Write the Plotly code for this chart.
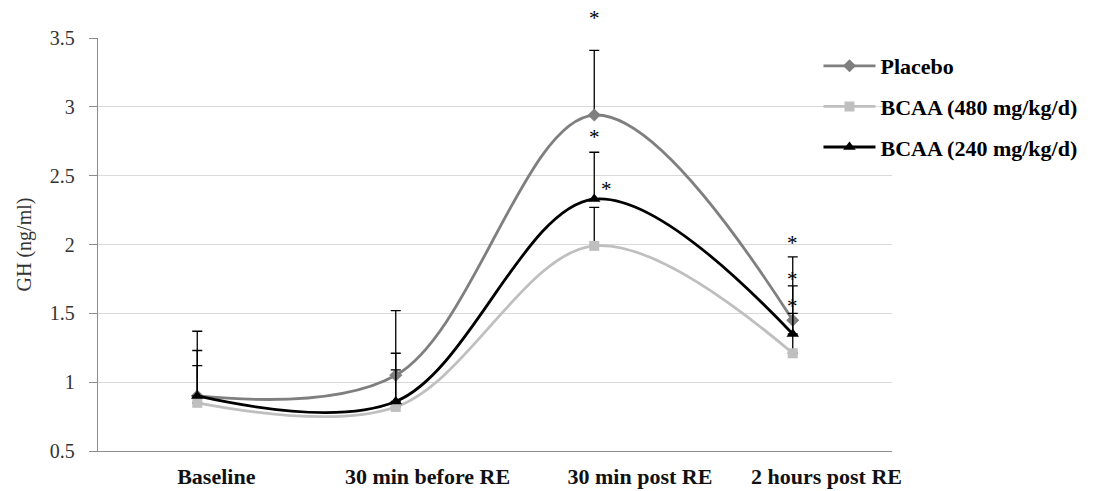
import plotly.graph_objects as go

categories = ["Baseline", "30 min before RE", "30 min post RE", "2 hours post RE"]
x_pos = [0, 1, 2, 3]
label_pos = [0.096, 1.16, 2.23, 3.17]

placebo = [0.90, 1.05, 2.94, 1.45]
placebo_top = [1.37, 1.52, 3.41, 1.91]
bcaa480 = [0.85, 0.82, 1.99, 1.21]
bcaa480_top = [1.12, 1.09, 2.27, 1.50]
bcaa240 = [0.90, 0.86, 2.33, 1.35]
bcaa240_top = [1.23, 1.21, 2.67, 1.70]

# significance markers (x, y)
star_x = [2, 2, 2.06, 3, 3, 3]
star_y = [3.65, 2.79, 2.41, 2.02, 1.76, 1.56]

y_ticks = [0.5, 1, 1.5, 2, 2.5, 3, 3.5]
y_labels = ["0.5", "1", "1.5", "2", "2.5", "3", "3.5"]

FONT = "Liberation Serif"
Y_MIN, Y_MAX = 0.5, 3.5
PLOT_H = 413

def err(vals, tops):
    return dict(type="data", symmetric=False,
                array=[t - v for v, t in zip(vals, tops)],
                arrayminus=[0] * len(vals),
                color="black", thickness=1.3, width=5)

fig = go.Figure()
series = [
    ("Placebo", placebo, placebo_top, "#7f7f7f", "diamond", 10),
    ("BCAA (480 mg/kg/d)", bcaa480, bcaa480_top, "#bfbfbf", "square", 10),
    ("BCAA (240 mg/kg/d)", bcaa240, bcaa240_top, "#000000", "triangle-up", 11),
]
for i, (name, vals, tops, col, sym, sz) in enumerate(series):
    fig.add_trace(go.Scatter(
        x=x_pos, y=vals, name=name, mode="lines+markers",
        line=dict(color=col, width=2.8, shape="spline", smoothing=1.0),
        marker=dict(color=col, symbol=sym, size=sz),
        error_y=err(vals, tops),
        legendgroup=f"g{i}",
    ))

px_per_unit = PLOT_H / (Y_MAX - Y_MIN)
for sx, sy in zip(star_x, star_y):
    ya = min(sy, Y_MAX)
    fig.add_annotation(x=sx, y=ya, text="*", showarrow=False,
                       font=dict(family=FONT, size=21, color="black"),
                       xanchor="center", yanchor="middle", height=16,
                       valign="middle", borderpad=0,
                       yshift=(sy - ya) * px_per_unit - 1)

fig.update_layout(
    width=1110, height=491,
    margin=dict(l=90, r=226, t=30, b=48, autoexpand=False),
    paper_bgcolor="white", plot_bgcolor="white",
    font=dict(family=FONT, color="#333333"),
    showlegend=True,
    legend=dict(x=0.9074, y=0.983, xanchor="left", yanchor="top",
                font=dict(family=FONT, size=22, color="black", weight="bold"),
                tracegroupgap=9, itemwidth=52, bgcolor="rgba(0,0,0,0)"),
    xaxis=dict(range=[-0.5, 3.5], tickvals=label_pos, ticktext=categories,
               tickfont=dict(family=FONT, size=22, color="#111111", weight="bold"),
               showgrid=False, showline=True, linecolor="#8c8c8c", linewidth=1.3,
               ticks="", zeroline=False, ticklabelstandoff=5),
    yaxis=dict(range=[Y_MIN, Y_MAX], tickvals=y_ticks, ticktext=y_labels,
               tickfont=dict(family=FONT, size=20, color="#333333"),
               showgrid=True, gridcolor="#d9d9d9", gridwidth=1.3,
               showline=True, linecolor="#8c8c8c", linewidth=1.3,
               ticks="outside", ticklen=8, tickcolor="#8c8c8c", zeroline=False,
               ticklabelstandoff=10,
               title=dict(text="GH (ng/ml)", font=dict(family=FONT, size=20, color="#333333"),
                          standoff=12)),
)

fig.write_html("out.html")
